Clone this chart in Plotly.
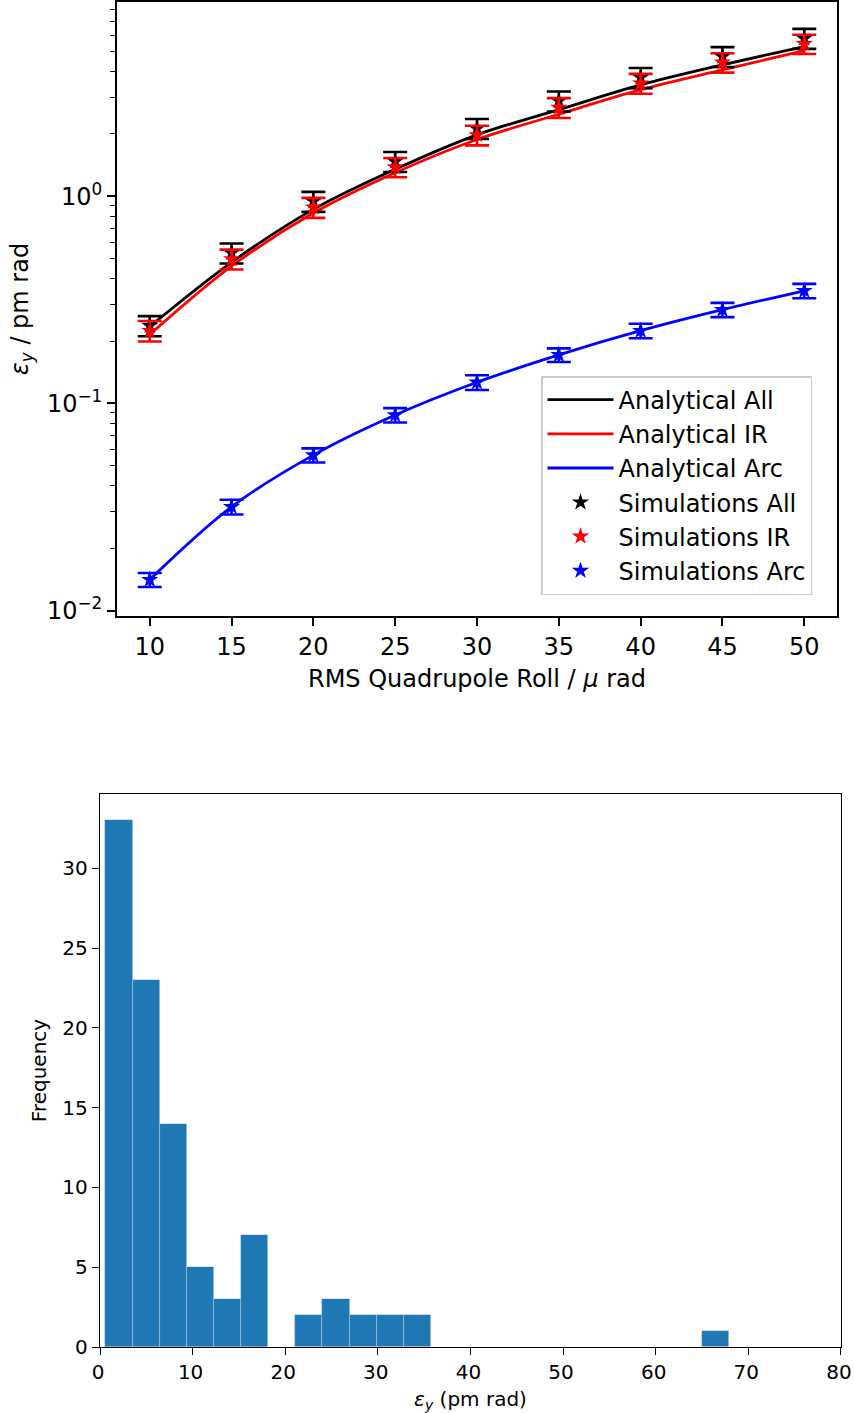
import plotly.graph_objects as go

# ---------------- data (top panel) ----------------
roll = [10, 15, 20, 25, 30, 35, 40, 45, 50]

ana_all = [0.235, 0.48, 0.865, 1.35, 1.98, 2.62, 3.45, 4.31, 5.28]
ana_ir = [0.215, 0.46, 0.83, 1.30, 1.88, 2.49, 3.27, 4.08, 5.05]
ana_arc = [0.0141, 0.0317, 0.0563, 0.0879, 0.1265, 0.1715, 0.2245, 0.2835, 0.35]

sim_all = [0.2375, 0.533, 0.946, 1.474, 2.126, 2.887, 3.745, 4.73, 5.79]
sim_all_err = [0.0265, 0.059, 0.105, 0.163, 0.235, 0.319, 0.415, 0.52, 0.64]
sim_ir = [0.2245, 0.498, 0.885, 1.383, 1.977, 2.683, 3.513, 4.43, 5.44]
sim_ir_err = [0.0255, 0.055, 0.098, 0.148, 0.215, 0.296, 0.387, 0.475, 0.58]
sim_arc = [0.0141, 0.0317, 0.0563, 0.0879, 0.1265, 0.1715, 0.2245, 0.2835, 0.35]
sim_arc_err = [0.0011, 0.0026, 0.0044, 0.0070, 0.0104, 0.013, 0.018, 0.0225, 0.028]

# ---------------- data (bottom panel: histogram) ----------------
hist_start = 0.58
hist_width = 2.93
hist_counts = [33, 23, 14, 5, 3, 7, 0, 2, 3, 2, 2, 2,
               0, 0, 0, 0, 0, 0, 0, 0, 0, 0, 1]
hist_xticks = [0, 10, 20, 30, 40, 50, 60, 70, 80]
hist_yticks = [0, 5, 10, 15, 20, 25, 30]

y_tickvals = [0.01, 0.1, 1]
y_ticktext = ["10<sup>−2</sup>", "10<sup>−1</sup>", "10<sup>0</sup>"]

FONT = "DejaVu Sans"
W, H = 854, 1413

fig = go.Figure()

line_series = [("Analytical All", ana_all, "#000000"),
               ("Analytical IR", ana_ir, "#ff0000"),
               ("Analytical Arc", ana_arc, "#0000ff")]
for name, vals, col in line_series:
    fig.add_trace(go.Scatter(x=roll, y=vals, mode="lines", name=name,
                             line=dict(color=col, width=2.8, shape="spline"),
                             xaxis="x", yaxis="y"))

sim_series = [("Simulations All", sim_all, sim_all_err, "#000000"),
              ("Simulations IR", sim_ir, sim_ir_err, "#ff0000"),
              ("Simulations Arc", sim_arc, sim_arc_err, "#0000ff")]
for name, vals, err, col in sim_series:
    fig.add_trace(go.Scatter(x=roll, y=vals, mode="markers", name=name,
                             marker=dict(symbol="star", size=13, color=col,
                                         line=dict(width=0)),
                             error_y=dict(type="data", array=err, color=col,
                                          thickness=2.6, width=12),
                             xaxis="x", yaxis="y"))

centers = [hist_start + hist_width * (i + 0.5) for i in range(len(hist_counts))]
fig.add_trace(go.Bar(x=centers, y=hist_counts, width=hist_width,
                     marker=dict(color="#1f77b4",
                                 line=dict(color="rgba(255,255,255,0.35)", width=0.7)),
                     showlegend=False, xaxis="x2", yaxis="y2"))

# minor ticks for log axis
minor_vals = []
for dec in [0.01, 0.1, 1]:
    for m in range(2, 10):
        minor_vals.append(m * dec)

axis_common = dict(showgrid=False, zeroline=False, showline=True, mirror=True,
                   linecolor="black", ticks="outside", tickcolor="black",
                   automargin=False)

fig.update_layout(
    width=W, height=H,
    margin=dict(l=0, r=0, t=0, b=0, autoexpand=False),
    paper_bgcolor="white", plot_bgcolor="white",
    font=dict(family=FONT, color="black"),
    bargap=0,
    xaxis=dict(**axis_common, domain=[117 / W, 837 / W], anchor="y",
               range=[8, 52], tickvals=roll, ticklen=8, tickwidth=1.8,
               linewidth=1.8, tickfont=dict(size=24),
               title=dict(text="RMS Quadrupole Roll / <i>μ</i> rad",
                          font=dict(size=24), standoff=10)),
    yaxis=dict(**axis_common, domain=[1 - 616 / H, 1 - 2 / H], anchor="x",
               type="log", range=[-2.026, 0.938],
               tickvals=y_tickvals, ticktext=y_ticktext,
               ticklen=8, tickwidth=1.8, linewidth=1.8,
               tickfont=dict(size=24),
               minor=dict(ticks="outside", tickvals=minor_vals, ticklen=5,
                          tickwidth=1.4, tickcolor="black", showgrid=False),
               title=dict(text="<i>ε</i><sub><i>y</i></sub> / pm rad",
                          font=dict(size=24), standoff=12)),
    xaxis2=dict(**axis_common, domain=[100 / W, 841 / W], anchor="y2",
                range=[0, 80.01], tickvals=hist_xticks, ticklen=7, tickwidth=1.4,
                linewidth=1.4, tickfont=dict(size=20), ticklabelshift=-2,
                title=dict(text="<i>ε</i><sub><i>y</i></sub> (pm rad)",
                           font=dict(size=20), standoff=8)),
    yaxis2=dict(**axis_common, domain=[1 - 1347 / H, 1 - 794 / H], anchor="x2",
                range=[0, 34.65], tickvals=hist_yticks, ticklen=7, tickwidth=1.4,
                linewidth=1.4, tickfont=dict(size=20),
                title=dict(text="Frequency", font=dict(size=20), standoff=10)),
    legend=dict(x=541 / W, y=1 - 376 / H, xanchor="left", yanchor="top",
                bgcolor="rgba(255,255,255,0.8)", bordercolor="#cccccc",
                borderwidth=1.5, font=dict(size=24, family=FONT),
                itemwidth=66, tracegroupgap=0),
)

post = ("document.body.style.margin='0';"
        "document.body.style.overflow='hidden';")

fig.write_html("out.html", config={"displayModeBar": False}, post_script=post)
